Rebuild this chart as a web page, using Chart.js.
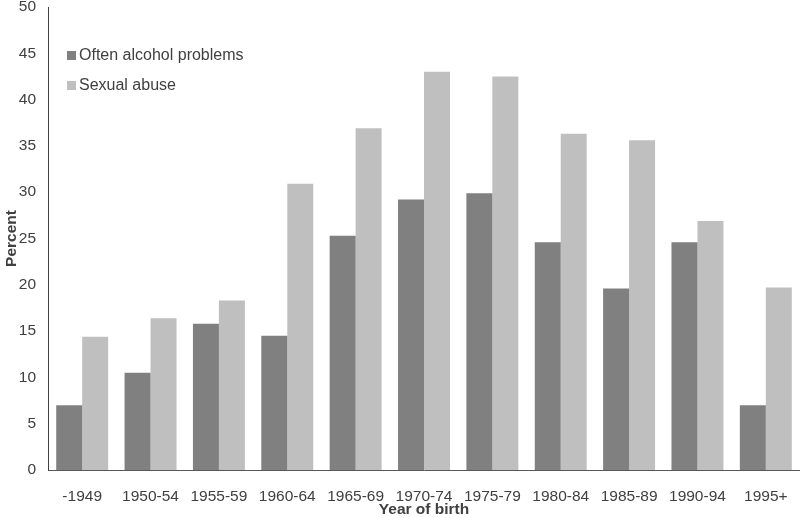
<!DOCTYPE html>
<html>
<head>
<meta charset="utf-8">
<script src="https://cdn.jsdelivr.net/npm/chart.js@4/dist/chart.umd.min.js"></script>
<style>
  body { margin: 0; background: #fff; }
  #wrap { width: 800px; height: 518px; }
</style>
</head>
<body>
<div id="wrap"><canvas id="birthChart" width="800" height="518"></canvas></div>
<script>
const years = ['-1949', '1950-54', '1955-59', '1960-64', '1965-69', '1970-74', '1975-79', '1980-84', '1985-89', '1990-94', '1995+'];
const alcoholProblems = [7.0, 10.5, 15.8, 14.5, 25.3, 29.2, 29.9, 24.6, 19.6, 24.6, 7.0];
const sexualAbuse = [14.4, 16.4, 18.3, 30.9, 36.9, 43.0, 42.5, 36.3, 35.6, 26.9, 19.7];
const yTicks = [0, 5, 10, 15, 20, 25, 30, 35, 40, 45, 50];

const textColor = '#404040';
const fontFamily = '"Liberation Sans", Arial, sans-serif';

// legend drawn inside the plot, top-left, stacked
const innerLegend = {
    id: 'innerLegend',
    afterDraw(chart) {
        const ctx = chart.ctx;
        ctx.save();
        ctx.font = '16px ' + fontFamily;
        ctx.textBaseline = 'middle';
        chart.data.datasets.forEach((ds, i) => {
            const y = 55 + i * 30;
            ctx.fillStyle = ds.backgroundColor;
            ctx.fillRect(67, y - 4, 9, 9);
            ctx.fillStyle = textColor;
            ctx.fillText(ds.label, 79, y + 1);
        });
        ctx.restore();
    }
};

new Chart(document.getElementById('birthChart'), {
    type: 'bar',
    data: {
        labels: years,
        datasets: [
            { label: 'Often alcohol problems', data: alcoholProblems, backgroundColor: '#808080' },
            { label: 'Sexual abuse', data: sexualAbuse, backgroundColor: '#bfbfbf' }
        ]
    },
    options: {
        responsive: false,
        animation: false,
        layout: { padding: { top: 0, right: 0, bottom: 0, left: 2 } },
        datasets: { bar: { categoryPercentage: 0.76, barPercentage: 1.0 } },
        plugins: { legend: { display: false }, tooltip: { enabled: false } },
        scales: {
            x: {
                afterFit: s => { s.height = 48; },
                grid: { display: false },
                border: { display: true, color: '#595959', width: 1 },
                ticks: { color: textColor, font: { family: fontFamily, size: 15.5 }, padding: 9, maxRotation: 0 },
                title: { display: true, text: 'Year of birth', color: textColor, font: { family: fontFamily, size: 15.5, weight: 'bold' }, padding: { top: 0, bottom: -1 } }
            },
            y: {
                min: 0,
                max: 50,
                afterFit: s => { s.width = 46; s.paddingTop = 7; },
                afterBuildTicks: axis => { axis.ticks = yTicks.map(v => ({ value: v })); },
                grid: { display: false, drawTicks: false, tickLength: 0 },
                border: { display: true, color: '#404040', width: 1 },
                ticks: { color: textColor, font: { family: fontFamily, size: 15.5 }, padding: 12 },
                title: { display: true, text: 'Percent', color: textColor, font: { family: fontFamily, size: 15.5, weight: 'bold' }, padding: { top: 0, bottom: 0 } }
            }
        }
    },
    plugins: [innerLegend]
});
</script>
</body>
</html>
